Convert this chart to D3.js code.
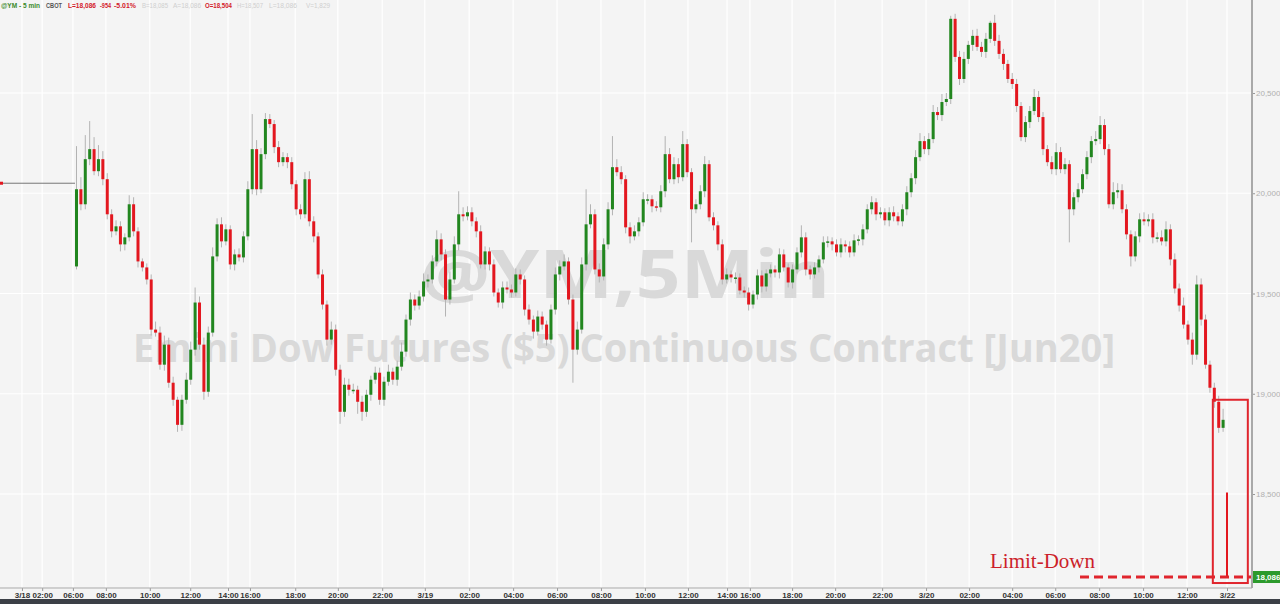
<!DOCTYPE html>
<html>
<head>
<meta charset="utf-8">
<script src="https://cdn.jsdelivr.net/npm/d3@7"></script>
<style>
  body { margin: 0; background: #f4f4f4; }
  svg { display: block; font-family: "Liberation Sans", Arial, sans-serif; }
</style>
</head>
<body>
<svg id="chart" width="1280" height="604"></svg>
<script>
// 3/18 - 3/22 Emini Dow candles (closes, open = previous close)
const firstOpen = 19635;
const preHaltLevel = 20050;
const closes = [
  20020,19945,20170,20220,20110,20170,20070,19895,19810,19835,
  19745,19780,19945,19810,19660,19630,19570,19320,19305,19145,
  19245,19055,18970,18845,18970,19070,19220,19455,19245,19010,
  19305,19685,19845,19760,19820,19645,19695,19680,19785,20020,
  20220,20020,20195,20370,20345,20230,20155,20180,20155,20045,
  19920,19895,20070,19860,19785,19595,19445,19270,19320,19120,
  18910,19045,19020,19020,18960,18910,18995,19070,19105,18970,
  19060,19110,19070,19135,19210,19370,19470,19440,19485,19560,
  19570,19660,19770,19695,19470,19570,19745,19895,19885,19905,
  19860,19810,19645,19710,19645,19505,19455,19530,19520,19505,
  19595,19570,19420,19370,19310,19385,19345,19270,19420,19595,
  19635,19660,19470,19220,19320,19645,19845,19895,19620,19585,
  19745,19920,20130,20105,20070,19830,19785,19810,19855,19970,
  19970,19935,19930,20010,20195,20070,20145,20080,20245,20105,
  19920,19945,20010,20145,19880,19840,19745,19570,19595,19580,
  19580,19515,19505,19445,19495,19590,19535,19600,19620,19605,
  19695,19630,19555,19620,19705,19780,19620,19595,19630,19670,
  19755,19760,19745,19705,19745,19735,19705,19765,19770,19820,
  19920,19955,19895,19905,19865,19905,19885,19860,19920,20005,
  20075,20180,20260,20220,20270,20405,20390,20455,20470,20870,
  20680,20570,20670,20740,20785,20730,20705,20770,20850,20760,
  20695,20645,20570,20545,20435,20280,20355,20410,20480,20380,
  20220,20155,20120,20205,20120,20145,19920,19980,20020,20095,
  20180,20260,20270,20340,20220,19945,20005,20015,19920,19795,
  19685,19785,19870,19860,19870,19780,19780,19760,19820,19670,
  19525,19440,19345,19270,19195,19545,19370,19145,19030,18960,
  18830,18870
];
// wick lengths (points) above the body top and below the body bottom
const wickHi = [
  215,60,120,140,60,70,40,30,25,30,
  25,20,45,35,20,15,20,25,40,30,
  45,35,30,15,25,35,40,75,30,35,
  30,45,30,35,25,20,25,30,25,40,
  175,45,30,30,25,20,30,25,20,25,
  20,25,35,40,25,20,25,20,40,25,
  25,35,30,30,20,30,25,20,30,25,
  25,35,20,30,45,25,35,25,30,40,
  25,30,45,30,25,40,40,115,35,30,
  25,20,30,25,20,25,20,30,30,25,
  30,25,20,25,20,30,25,20,25,35,
  30,35,20,25,40,35,175,50,25,30,
  30,35,155,40,30,20,25,30,25,35,
  25,20,25,30,90,30,35,30,65,25,
  20,25,30,40,20,25,20,25,30,20,
  25,20,20,25,20,30,25,20,25,20,
  30,25,20,25,25,60,25,20,25,20,
  30,25,20,25,30,20,25,30,20,25,
  25,30,20,25,20,25,30,20,25,30,
  25,35,40,25,30,35,25,40,30,15,
  25,30,35,20,30,35,25,30,10,40,
  30,25,20,30,25,20,30,25,40,30,
  25,20,30,45,25,30,20,25,30,25,
  30,25,40,45,30,25,50,35,30,25,
  20,25,30,35,25,30,25,35,40,25,
  30,25,40,20,35,45,30,25,20,25,
  30,55
];
const wickLo = [
  15,30,25,30,20,25,30,25,30,20,
  35,30,20,25,30,20,25,30,20,25,
  30,25,30,35,30,20,25,30,25,40,
  25,20,25,30,20,25,30,20,25,20,
  25,30,20,25,20,30,25,20,30,25,
  30,25,20,25,30,20,25,30,25,30,
  60,25,30,20,60,45,25,30,20,25,
  30,20,25,30,20,25,30,25,20,25,
  30,20,25,30,85,25,20,30,25,20,
  25,30,20,25,30,20,25,30,20,25,
  20,25,30,25,35,20,25,30,20,25,
  30,20,25,165,25,20,30,20,25,30,
  20,25,30,20,25,30,35,20,25,20,
  25,30,20,25,30,20,25,30,20,25,
  165,20,25,30,20,25,30,25,20,25,
  30,20,25,30,20,25,30,25,20,25,
  30,20,25,30,20,25,30,25,20,25,
  20,25,30,20,25,30,25,20,25,30,
  20,25,30,20,25,30,25,20,25,30,
  25,30,20,25,30,20,25,30,20,25,
  25,30,20,25,30,20,25,30,20,25,
  25,30,20,25,30,20,25,30,20,25,
  30,20,25,30,20,25,165,30,25,20,
  25,30,20,25,30,20,25,30,20,25,
  50,25,30,20,25,30,25,20,25,30,
  25,30,20,25,50,25,30,20,25,30,
  25,20
];
// Sunday re-open, limit-down bar
const limitBar = { open: 18504, high: 18507, low: 18086, close: 18086 };
const lastPrice = 18086;

const priceTicks = [18500, 19000, 19500, 20000, 20500];
const timeTickPos = [-12.3, -7.7, -0.7, 6.8, 16.8, 26.0, 34.6, 39.6, 49.9, 59.6, 69.7,
  79.4, 89.5, 99.5, 109.5, 119.5, 129.5, 139.3, 148.2, 153.4, 163.0, 172.8, 183.5,
  193.5, 203.3, 213.1, 222.9, 232.9, 242.9, 252.9, 262.0];
const timeTickLabels = ["3/18", "02:00", "06:00", "08:00", "10:00", "12:00", "14:00", "16:00", "18:00", "20:00", "22:00",
  "3/19", "02:00", "04:00", "06:00", "08:00", "10:00", "12:00", "14:00", "16:00", "18:00", "20:00", "22:00",
  "3/20", "02:00", "04:00", "06:00", "08:00", "10:00", "12:00", "3/22"];

const header = [
  { t: "@YM - 5 min", x: 1, w: 39, c: "#3a8a2a", b: true },
  { t: "CBOT", x: 46, w: 16, c: "#555", b: true },
  { t: "L=18,086", x: 68, w: 28, c: "#d3202a", b: true },
  { t: "-954", x: 100, w: 11, c: "#d3202a", b: true },
  { t: "-5.01%", x: 114, w: 22, c: "#d3202a", b: true },
  { t: "B=18,085", x: 142, w: 26, c: "#cfcfcf", b: false },
  { t: "A=18,086", x: 173, w: 28, c: "#cfcfcf", b: false },
  { t: "O=18,504", x: 205, w: 27, c: "#d3202a", b: true },
  { t: "H=18,507", x: 237, w: 26, c: "#cfcfcf", b: false },
  { t: "L=18,086", x: 269, w: 28, c: "#cfcfcf", b: false },
  { t: "V=1,829", x: 306, w: 24, c: "#cfcfcf", b: false }
];

const plotRight = 1252, plotBottom = 588;
const green = "#22861f", red = "#e3171f";

const svg = d3.select("#chart");
svg.append("rect").attr("width", 1280).attr("height", 604).attr("fill", "#f4f4f4");

const xScale = d3.scaleLinear().domain([0, 262]).range([76, 1227]);
const yScale = d3.scaleLinear().domain([18500, 20500]).range([494, 93]);

// grid
const grid = svg.append("g");
grid.selectAll(".vg").data(timeTickPos).enter().append("line")
  .attr("x1", d => xScale(d)).attr("x2", d => xScale(d))
  .attr("y1", 0).attr("y2", plotBottom)
  .attr("stroke", "#fff").attr("stroke-width", 1.2);
grid.selectAll(".hg").data(priceTicks).enter().append("line")
  .attr("x1", 0).attr("x2", plotRight)
  .attr("y1", d => yScale(d)).attr("y2", d => yScale(d))
  .attr("stroke", "#fff").attr("stroke-width", 1.2);

// watermark
svg.append("text").text("@YM,5Min")
  .attr("x", 420).attr("y", 298)
  .attr("textLength", 410).attr("lengthAdjust", "spacingAndGlyphs")
  .style("font-family", "'Open Sans', sans-serif").style("font-weight", 700)
  .style("font-size", "66px").attr("fill", "#d9d9d9");
svg.append("text").text("Emini Dow Futures ($5) Continuous Contract [Jun20]")
  .attr("x", 133).attr("y", 362)
  .attr("textLength", 982).attr("lengthAdjust", "spacingAndGlyphs")
  .style("font-family", "'Open Sans', sans-serif").style("font-weight", 700)
  .style("font-size", "40px").attr("fill", "#d9d9d9");

// pre-open flat line
svg.append("line")
  .attr("x1", 0).attr("x2", xScale(0) - 1)
  .attr("y1", yScale(preHaltLevel)).attr("y2", yScale(preHaltLevel))
  .attr("stroke", "#777").attr("stroke-width", 1);
svg.append("rect").attr("x", 0).attr("y", yScale(preHaltLevel) - 1.5)
  .attr("width", 3).attr("height", 3).attr("fill", red);

// candles
const candles = closes.map((c, i) => {
  const o = i === 0 ? firstOpen : closes[i - 1];
  return { i, o, c, h: Math.max(o, c) + wickHi[i], l: Math.min(o, c) - wickLo[i] };
});

const cg = svg.append("g");
cg.selectAll(".wick").data(candles).enter().append("line")
  .attr("x1", d => xScale(d.i) + 0.5).attr("x2", d => xScale(d.i) + 0.5)
  .attr("y1", d => yScale(d.h)).attr("y2", d => yScale(d.l))
  .attr("stroke", "#b3b3b3").attr("stroke-width", 1);
cg.selectAll(".body").data(candles).enter().append("rect")
  .attr("x", d => xScale(d.i) - 1)
  .attr("width", 3)
  .attr("y", d => yScale(Math.max(d.o, d.c)))
  .attr("height", d => Math.max(1.5, Math.abs(yScale(d.o) - yScale(d.c))))
  .attr("fill", d => d.c >= d.o ? green : red);

// limit-down bar
svg.append("line")
  .attr("x1", xScale(262)).attr("x2", xScale(262))
  .attr("y1", yScale(limitBar.high)).attr("y2", yScale(limitBar.low))
  .attr("stroke", red).attr("stroke-width", 2);

// annotation: box, dashed limit line, label
svg.append("rect")
  .attr("x", xScale(259) - 1).attr("y", yScale(18970))
  .attr("width", 35).attr("height", yScale(18056) - yScale(18970))
  .attr("fill", "none").attr("stroke", "#e0252d").attr("stroke-width", 2);
svg.append("line")
  .attr("x1", 1080).attr("x2", plotRight)
  .attr("y1", yScale(lastPrice)).attr("y2", yScale(lastPrice))
  .attr("stroke", "#e0252d").attr("stroke-width", 3).attr("stroke-dasharray", "9,5");
svg.append("text").text("Limit-Down")
  .attr("x", 990).attr("y", 568)
  .style("font-family", "'Liberation Serif', 'DejaVu Serif', serif")
  .style("font-size", "21px").attr("fill", "#cc1f2a");

// y axis (right)
const yAxis = d3.axisRight(yScale).tickValues(priceTicks).tickFormat(d3.format(",")).tickSize(3);
const yg = svg.append("g").attr("transform", `translate(${plotRight},0)`).call(yAxis);
yg.select(".domain").remove();
yg.selectAll(".tick line").attr("stroke", "#999");
yg.selectAll(".tick text").attr("x", 4).attr("fill", "#b0b0b0")
  .style("font-size", "8px").style("font-family", "'Liberation Sans', Arial, sans-serif");
svg.append("line").attr("x1", plotRight).attr("x2", plotRight)
  .attr("y1", 0).attr("y2", plotBottom)
  .attr("stroke", "#a9a9a9").attr("stroke-width", 2);

// last price tag
svg.append("rect").attr("x", plotRight + 1).attr("y", yScale(lastPrice) - 6)
  .attr("width", 27).attr("height", 12).attr("fill", "#2c9a2c");
svg.append("text").text(d3.format(",")(lastPrice))
  .attr("x", plotRight + 4).attr("y", yScale(lastPrice) + 3)
  .style("font-size", "8px").style("font-weight", 700).attr("fill", "#fff");

// x axis
const xAxis = d3.axisBottom(xScale).tickValues(timeTickPos)
  .tickFormat((d, i) => timeTickLabels[i]).tickSize(3).tickPadding(1);
const xg = svg.append("g").attr("transform", `translate(0,${plotBottom})`).call(xAxis);
xg.select(".domain").remove();
xg.selectAll(".tick line").attr("stroke", "#999");
xg.selectAll(".tick text").attr("fill", "#333")
  .style("font-size", "8px").style("font-weight", 700)
  .style("font-family", "'Liberation Sans', Arial, sans-serif");
svg.append("line").attr("x1", 0).attr("x2", plotRight)
  .attr("y1", plotBottom).attr("y2", plotBottom)
  .attr("stroke", "#a9a9a9").attr("stroke-width", 1);

// bottom dark band
svg.append("rect").attr("x", 0).attr("y", 599).attr("width", 1280).attr("height", 5).attr("fill", "#3b3f46");

// header line
svg.selectAll(".hdr").data(header).enter().append("text")
  .text(d => d.t).attr("x", d => d.x).attr("y", 8)
  .attr("textLength", d => d.w).attr("lengthAdjust", "spacingAndGlyphs")
  .style("font-size", "7.5px").style("font-weight", d => d.b ? 700 : 400)
  .attr("fill", d => d.c);
</script>
</body>
</html>
